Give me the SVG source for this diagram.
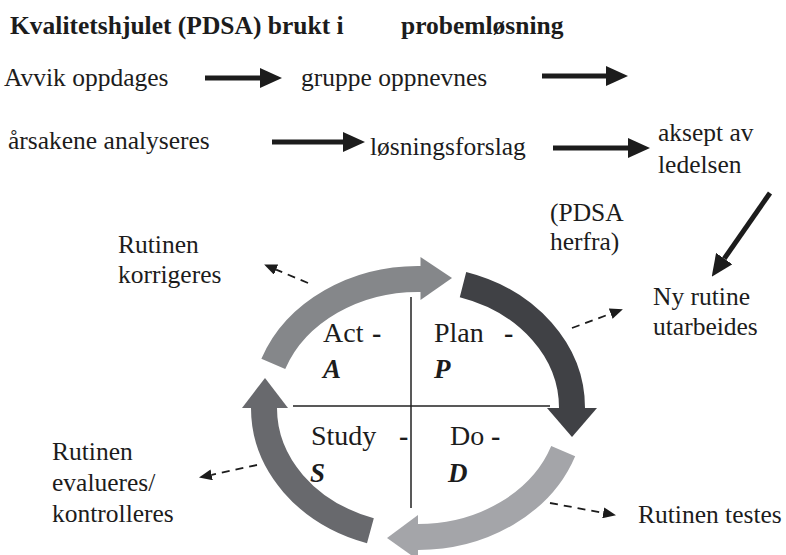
<svg xmlns="http://www.w3.org/2000/svg" width="786" height="555" viewBox="0 0 786 555" font-family="'Liberation Serif', 'Times New Roman', Times, 'DejaVu Serif', serif">
  <style>
    .t { font-family: "Liberation Serif", "Times New Roman", Times, "DejaVu Serif", serif; fill: #1c1c1c; }
    .lbl { font-size: 25.5px; }
    .ttl { font-size: 25.5px; font-weight: bold; }
    .in { font-size: 28px; }
    .dash { font-size: 28px; font-weight: bold; }
    .ltr { font-size: 27px; font-weight: bold; font-style: italic; }
    .solid { stroke: #1c1c1c; stroke-width: 5; fill: none; marker-end: url(#headSolid); }
    .dashed { stroke: #1c1c1c; stroke-width: 1.8; stroke-dasharray: 8 6; fill: none; marker-end: url(#headDash); }
    .cross { stroke: #222; stroke-width: 1.5; }
    .ring { fill: none; stroke-width: 26; stroke-linecap: butt; }
  </style>
  <defs>
    <marker id="headSolid" markerUnits="userSpaceOnUse" markerWidth="22" markerHeight="20" refX="0" refY="10" orient="auto">
      <path d="M0,0 L22,10 L0,20 z" fill="#1c1c1c"/>
    </marker>
    <marker id="headDash" markerUnits="userSpaceOnUse" markerWidth="13" markerHeight="11" refX="0" refY="5.5" orient="auto">
      <path d="M0,0 L13,5.5 L0,11 z" fill="#1c1c1c"/>
    </marker>
  </defs>

  <rect width="786" height="555" fill="#ffffff"/>

  <!-- heading -->
  <g id="title">
    <text class="t ttl" x="10" y="34">Kvalitetshjulet (PDSA) brukt i</text>
    <text class="t ttl" x="401" y="34">probemløsning</text>
  </g>

  <!-- process steps -->
  <g id="avvik"><text class="t lbl" x="4" y="86">Avvik oppdages</text></g>
  <g id="gruppe"><text class="t lbl" x="301" y="86">gruppe oppnevnes</text></g>
  <g id="arsakene"><text class="t lbl" x="8" y="149">årsakene analyseres</text></g>
  <g id="losningsforslag"><text class="t lbl" x="370" y="155">løsningsforslag</text></g>
  <g id="aksept">
    <text class="t lbl" x="658" y="141">aksept av</text>
    <text class="t lbl" x="658" y="173">ledelsen</text>
  </g>
  <g id="pdsa-start">
    <text class="t lbl" x="550" y="221">(PDSA</text>
    <text class="t lbl" x="550" y="250">herfra)</text>
  </g>
  <g id="ny-rutine">
    <text class="t lbl" x="653" y="305">Ny rutine</text>
    <text class="t lbl" x="653" y="335">utarbeides</text>
  </g>
  <g id="korrigeres">
    <text class="t lbl" x="118" y="253">Rutinen</text>
    <text class="t lbl" x="118" y="283">korrigeres</text>
  </g>
  <g id="evalueres">
    <text class="t lbl" x="52" y="460">Rutinen</text>
    <text class="t lbl" x="52" y="491">evalueres/</text>
    <text class="t lbl" x="52" y="522">kontrolleres</text>
  </g>
  <g id="testes"><text class="t lbl" x="638" y="523">Rutinen testes</text></g>

  <!-- PDSA wheel -->
  <g id="wheel">
    <path class="ring" stroke="#85878a" d="M273.3,363.9 A154,129 0 0 1 421.2,279"/>
    <polygon fill="#85878a" points="420.5,257 452,278 420.5,300"/>

    <path class="ring" stroke="#404145" d="M463,284.6 A154,129 0 0 1 572,408.5"/>
    <polygon fill="#404145" points="547,408 597,408 572,437"/>

    <path class="ring" stroke="#a4a5a9" d="M563.2,451.1 A154,129 0 0 1 417.5,537"/>
    <polygon fill="#a4a5a9" points="418,515 418,560 387,538"/>

    <path class="ring" stroke="#68696d" d="M370.4,530.7 A154,129 0 0 1 264,407.5"/>
    <polygon fill="#68696d" points="242,408 288,408 265,378"/>

    <line class="cross" x1="411" y1="297" x2="411" y2="508"/>
    <line class="cross" x1="293" y1="406" x2="550" y2="406"/>
  </g>

  <g id="act">
    <text class="t in" x="323" y="342">Act<tspan class="dash" x="372">-</tspan></text>
    <text class="t ltr" x="323" y="378">A</text>
  </g>
  <g id="plan">
    <text class="t in" x="434" y="342">Plan<tspan class="dash" x="504">-</tspan></text>
    <text class="t ltr" x="434" y="378">P</text>
  </g>
  <g id="study">
    <text class="t in" x="311" y="445">Study<tspan class="dash" x="399">-</tspan></text>
    <text class="t ltr" x="310" y="482">S</text>
  </g>
  <g id="do">
    <text class="t in" x="450" y="445">Do<tspan class="dash" x="491">-</tspan></text>
    <text class="t ltr" x="448" y="482">D</text>
  </g>

  <!-- connectors -->
  <g id="connectors">
    <line class="solid" x1="205" y1="78" x2="260" y2="78"/>
    <line class="solid" x1="542" y1="76" x2="606" y2="76"/>
    <line class="solid" x1="272" y1="142" x2="343" y2="142"/>
    <line class="solid" x1="553" y1="148" x2="628" y2="148"/>
    <line class="solid" x1="770" y1="193" x2="724.3" y2="258.6"/>

    <line class="dashed" x1="308" y1="283" x2="276.1" y2="269.6"/>
    <line class="dashed" x1="572" y1="328" x2="610.7" y2="313.7"/>
    <line class="dashed" x1="257" y1="465" x2="211.7" y2="474.8"/>
    <line class="dashed" x1="550" y1="503" x2="603.2" y2="512.8"/>
  </g>
</svg>
